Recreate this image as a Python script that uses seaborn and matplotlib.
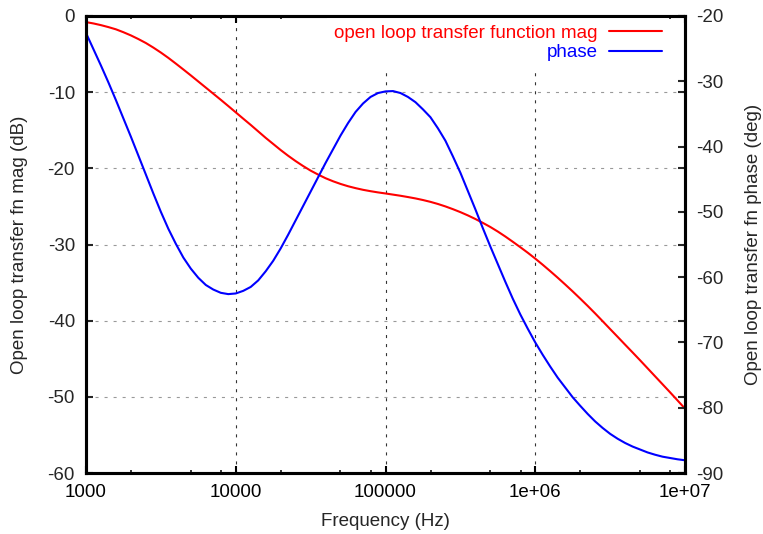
import numpy as np
import pandas as pd
import matplotlib
matplotlib.use("Agg")
import matplotlib.pyplot as plt
from matplotlib.ticker import LogLocator, NullFormatter
import seaborn as sns

# Frequency sweep (Hz), one point every twentieth of a decade
freq_hz = [
    1000, 1122, 1259, 1413, 1585, 1778, 1995, 2239, 2512, 2818,
    3162, 3548, 3981, 4467, 5012, 5623, 6310, 7079, 7943, 8913,
    10000, 11220, 12589, 14125, 15849, 17783, 19953, 22387, 25119, 28184,
    31623, 35481, 39811, 44668, 50119, 56234, 63096, 70795, 79433, 89125,
    100000, 112202, 125893, 141254, 158489, 177828, 199526, 223872, 251189, 281838,
    316228, 354813, 398107, 446684, 501187, 562341, 630957, 707946, 794328, 891251,
    1000000, 1122018, 1258925, 1412538, 1584893, 1778279, 1995262, 2238721, 2511886, 2818383,
    3162278, 3548134, 3981072, 4466836, 5011872, 5623413, 6309573, 7079458, 7943282, 8912509,
    10000000,
]

# Open loop transfer function magnitude (dB)
mag_db = [
    -0.8, -0.98, -1.2, -1.46, -1.75, -2.13, -2.55, -3.03, -3.55, -4.15,
    -4.8, -5.5, -6.25, -7.02, -7.8, -8.6, -9.4, -10.2, -11.0, -11.82,
    -12.65, -13.48, -14.3, -15.15, -16.0, -16.8, -17.6, -18.35, -19.05, -19.7,
    -20.3, -20.82, -21.3, -21.7, -22.05, -22.35, -22.6, -22.82, -23.0, -23.16,
    -23.3, -23.45, -23.6, -23.77, -23.95, -24.16, -24.4, -24.68, -25.0, -25.36,
    -25.75, -26.18, -26.65, -27.16, -27.7, -28.3, -28.95, -29.64, -30.35, -31.08,
    -31.85, -32.66, -33.5, -34.36, -35.25, -36.16, -37.1, -38.06, -39.05, -40.07,
    -41.1, -42.12, -43.15, -44.17, -45.2, -46.25, -47.3, -48.35, -49.4, -50.47,
    -51.55,
]

# Open loop transfer function phase (deg)
phase_deg = [
    -22.6, -25.1, -27.6, -30.2, -32.9, -35.7, -38.5, -41.4, -44.3, -47.2,
    -50.0, -52.6, -54.9, -57.0, -58.7, -60.1, -61.2, -61.9, -62.4, -62.6,
    -62.5, -62.1, -61.5, -60.5, -59.1, -57.5, -55.6, -53.5, -51.3, -49.1,
    -46.9, -44.7, -42.5, -40.4, -38.3, -36.4, -34.7, -33.4, -32.4, -31.8,
    -31.55, -31.5, -31.8, -32.4, -33.2, -34.3, -35.5, -37.2, -39.1, -41.5,
    -44.0, -46.8, -49.6, -52.5, -55.3, -58.0, -60.7, -63.3, -65.7, -67.9,
    -70.0, -71.9, -73.7, -75.4, -76.9, -78.4, -79.7, -80.95, -82.1, -83.1,
    -84.0, -84.75, -85.4, -85.95, -86.4, -86.85, -87.2, -87.5, -87.7, -87.9,
    -88.05,
]

x_ticks = [1e3, 1e4, 1e5, 1e6, 1e7]
x_tick_labels = ["1000", "10000", "100000", "1e+06", "1e+07"]
mag_ticks = [0, -10, -20, -30, -40, -50, -60]
phase_ticks = [-20, -30, -40, -50, -60, -70, -80, -90]

mag_label = "open loop transfer function mag"
phase_label = "phase"

df = pd.DataFrame({"freq": freq_hz, "mag": mag_db, "phase": phase_deg})

sns.set_style("white")
plt.rcParams["font.family"] = ["Liberation Sans", "DejaVu Sans"]
plt.rcParams["axes.unicode_minus"] = False
plt.rcParams["lines.scale_dashes"] = False
FS = 13.5

fig = plt.figure(figsize=(7.63, 5.34), dpi=100)
ax = fig.add_axes([86 / 763, 1 - 473 / 534, 599 / 763, 457 / 534])
ax2 = ax.twinx()

sns.lineplot(data=df, x="freq", y="mag", ax=ax, color="#ff0000",
             linewidth=1.5, label=mag_label, legend=False)
sns.lineplot(data=df, x="freq", y="phase", ax=ax2, color="#0000ff",
             linewidth=1.5, label=phase_label, legend=False)

ax.set_xscale("log")
ax.set_xlim(1e3, 1e7)
ax.set_ylim(-60, 0)
ax2.set_ylim(-90, -20)

ax.set_xticks(x_ticks, x_tick_labels)
ax.xaxis.set_minor_locator(LogLocator(base=10, subs=[2, 5, 8]))
ax.xaxis.set_minor_formatter(NullFormatter())
ax.set_yticks(mag_ticks)
ax2.set_yticks(phase_ticks)

# grid: dark vertical, grey horizontal, short dashes
ax.xaxis.grid(True, which="major", color="#333333", linewidth=0.8,
              linestyle=(0, (2.2, 4.3)))
ax.yaxis.grid(True, which="major", color="#999999", linewidth=0.8,
              linestyle=(0, (2.2, 4.3)))
ax.set_axisbelow(True)

for a in (ax, ax2):
    for sp in a.spines.values():
        sp.set_linewidth(2.2)
        sp.set_color("black")

ax.tick_params(axis="x", which="major", direction="in", length=5, width=1.5,
               top=True, bottom=True, labelsize=FS, pad=8, colors="black")
ax.tick_params(axis="x", which="minor", direction="in", length=2.5, width=1.3,
               top=True, bottom=True)
ax.tick_params(axis="y", which="major", direction="in", length=5, width=1.5,
               left=True, right=True, labelright=False, labelsize=FS, pad=8)
ax2.tick_params(axis="y", which="major", direction="in", length=5, width=1.5,
                left=False, right=True, labelsize=FS, pad=8)
ax2.tick_params(axis="y", which="minor", right=False, left=False)
ax.tick_params(axis="y", which="minor", left=False, right=False)

ax.set_xlabel("Frequency (Hz)", fontsize=FS)
ax.set_ylabel("Open loop transfer fn mag (dB)", fontsize=FS)
ax2.set_ylabel("Open loop transfer fn phase (deg)", fontsize=FS)
ax.xaxis.set_label_coords(0.5, (473 - 513) / 457)
ax.yaxis.set_label_coords((28 - 86) / 599, 0.5)
ax2.yaxis.set_label_coords((745 - 86) / 599, 0.5)

h1, l1 = ax.get_legend_handles_labels()
h2, l2 = ax2.get_legend_handles_labels()
leg = ax2.legend(h1 + h2, l1 + l2, loc="upper right",
                 bbox_to_anchor=(0.974, 0.997), borderaxespad=0,
                 borderpad=0.4, markerfirst=False, frameon=True,
                 fancybox=False, facecolor="white", edgecolor="none",
                 framealpha=1, fontsize=FS, handlelength=2.84,
                 handletextpad=0.58, labelspacing=0.12)
leg.set_zorder(2.2)  # keep the frame beneath the axes border
for txt, line in zip(leg.get_texts(), leg.get_lines()):
    txt.set_color(line.get_color())

fig.savefig("out.png", dpi=100)
